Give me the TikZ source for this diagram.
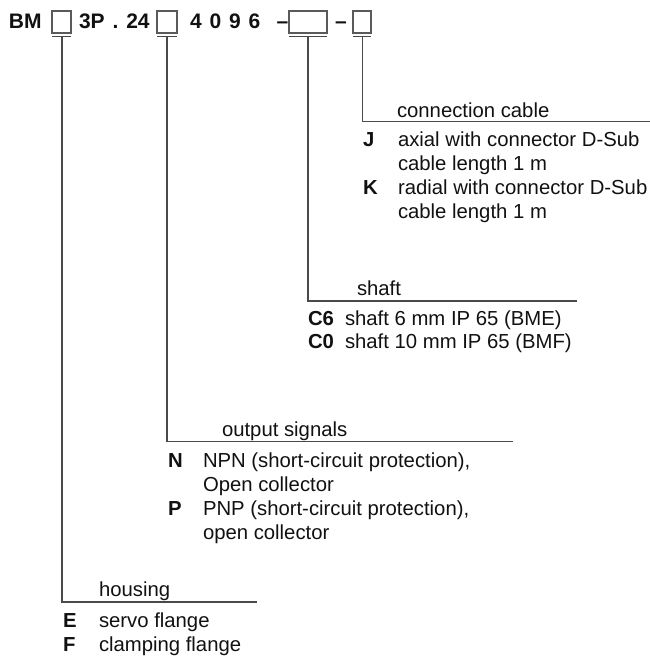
\documentclass[tikz,border=0pt]{standalone}
\usepackage{fontspec}
\setmainfont{Liberation Sans}
\definecolor{linegray}{HTML}{4A4A4A}
\definecolor{boxgray}{HTML}{5A5A5A}
\definecolor{ink}{HTML}{111111}
\newcommand\hsp{\hspace{7.9pt}}
\tikzset{
  txt/.style={anchor=base west, inner sep=0pt, outer sep=0pt, text=ink, font=\fontsize{20.3}{22}\selectfont},
  code/.style={txt, font=\fontsize{20.3}{22}\selectfont\bfseries},
  head/.style={txt, font=\fontsize{21}{22}\selectfont\bfseries},
  slot/.style={draw=boxgray, line width=1.1pt, inner sep=0pt, outer sep=0pt, anchor=north west},
  underl/.style={draw=linegray, line width=1.6pt},
  leader/.style={draw=linegray, line width=1.1pt},
}
\begin{document}
\begin{tikzpicture}[x=1pt,y=-1pt]
\useasboundingbox (0,0) rectangle (650,656);
% header
\node[head] (bm) at (9,28) {BM};
\node[slot, minimum width=19pt, minimum height=22pt] (b1) at (52,11) {};
\node[head] (p24) at (79,28) {3P\hsp.\hsp24};
\node[slot, minimum width=20pt, minimum height=22pt] (b2) at (157,11) {};
\node[head] (n4096) at (190,28) {4\hsp0\hsp9\hsp6};
\node[head] (d1) at (276.5,28) {–};
\node[slot, minimum width=38pt, minimum height=22pt] (b3) at (289,11) {};
\node[head] (d2) at (335,28) {–};
\node[slot, minimum width=18pt, minimum height=22pt] (b4) at (353,11) {};
% underlines
\coordinate (u1a) at (52,36.5); \coordinate (u1b) at (71,36.5);
\coordinate (u2a) at (157,36.5); \coordinate (u2b) at (177,36.5);
\coordinate (u3a) at (289,36.5); \coordinate (u3b) at (327,36.5);
\coordinate (u4a) at (353,36.5); \coordinate (u4b) at (371,36.5);
\draw[underl] (u1a) -- (u1b);
\draw[underl] (u2a) -- (u2b);
\draw[underl] (u3a) -- (u3b);
\draw[underl] (u4a) -- (u4b);
% leader lines
\coordinate (t1) at (62,36.5); \coordinate (c1) at (62,602); \coordinate (e1) at (257,602);
\coordinate (t2) at (167,36.5); \coordinate (c2) at (167,441.7); \coordinate (e2) at (513,441.7);
\coordinate (t3) at (308,36.5); \coordinate (c3) at (308,301); \coordinate (e3) at (577,301);
\coordinate (t4) at (362.5,36.5); \coordinate (c4) at (362.5,121.7); \coordinate (e4) at (650,121.7);
\draw[leader] (t1) -- (c1) -- (e1);
\draw[leader] (t2) -- (c2) -- (e2);
\draw[leader] (t3) -- (c3) -- (e3);
\draw[leader] (t4) -- (c4) -- (e4);
% connection cable
\node[txt] (lcc) at (397,117) {connection cable};
\node[code] (kj) at (363,146) {J};
\node[txt] (tj1) at (398,146) {axial with connector D-Sub};
\node[txt] (tj2) at (398,170) {cable length 1 m};
\node[code] (kk) at (363,194) {K};
\node[txt] (tk1) at (398,194) {radial with connector D-Sub};
\node[txt] (tk2) at (398,218) {cable length 1 m};
% shaft
\node[txt] (lsh) at (357,295) {shaft};
\node[code] (kc6) at (308,325) {C6};
\node[txt] (tc6) at (345,325) {shaft 6 mm IP 65 (BME)};
\node[code] (kc0) at (308,348) {C0};
\node[txt] (tc0) at (345,348) {shaft 10 mm IP 65 (BMF)};
% output signals
\node[txt] (los) at (222,436) {output signals};
\node[code] (kn) at (168,467) {N};
\node[txt] (tn1) at (203,467) {NPN (short-circuit protection),};
\node[txt] (tn2) at (203,491) {Open collector};
\node[code] (kp) at (168,515) {P};
\node[txt] (tp1) at (203,515) {PNP (short-circuit protection),};
\node[txt] (tp2) at (203,539) {open collector};
% housing
\node[txt] (lho) at (99,596) {housing};
\node[code] (ke) at (63,627) {E};
\node[txt] (te) at (99,627) {servo flange};
\node[code] (kf) at (63,651) {F};
\node[txt] (tf) at (99,651) {clamping flange};
\end{tikzpicture}
\end{document}
